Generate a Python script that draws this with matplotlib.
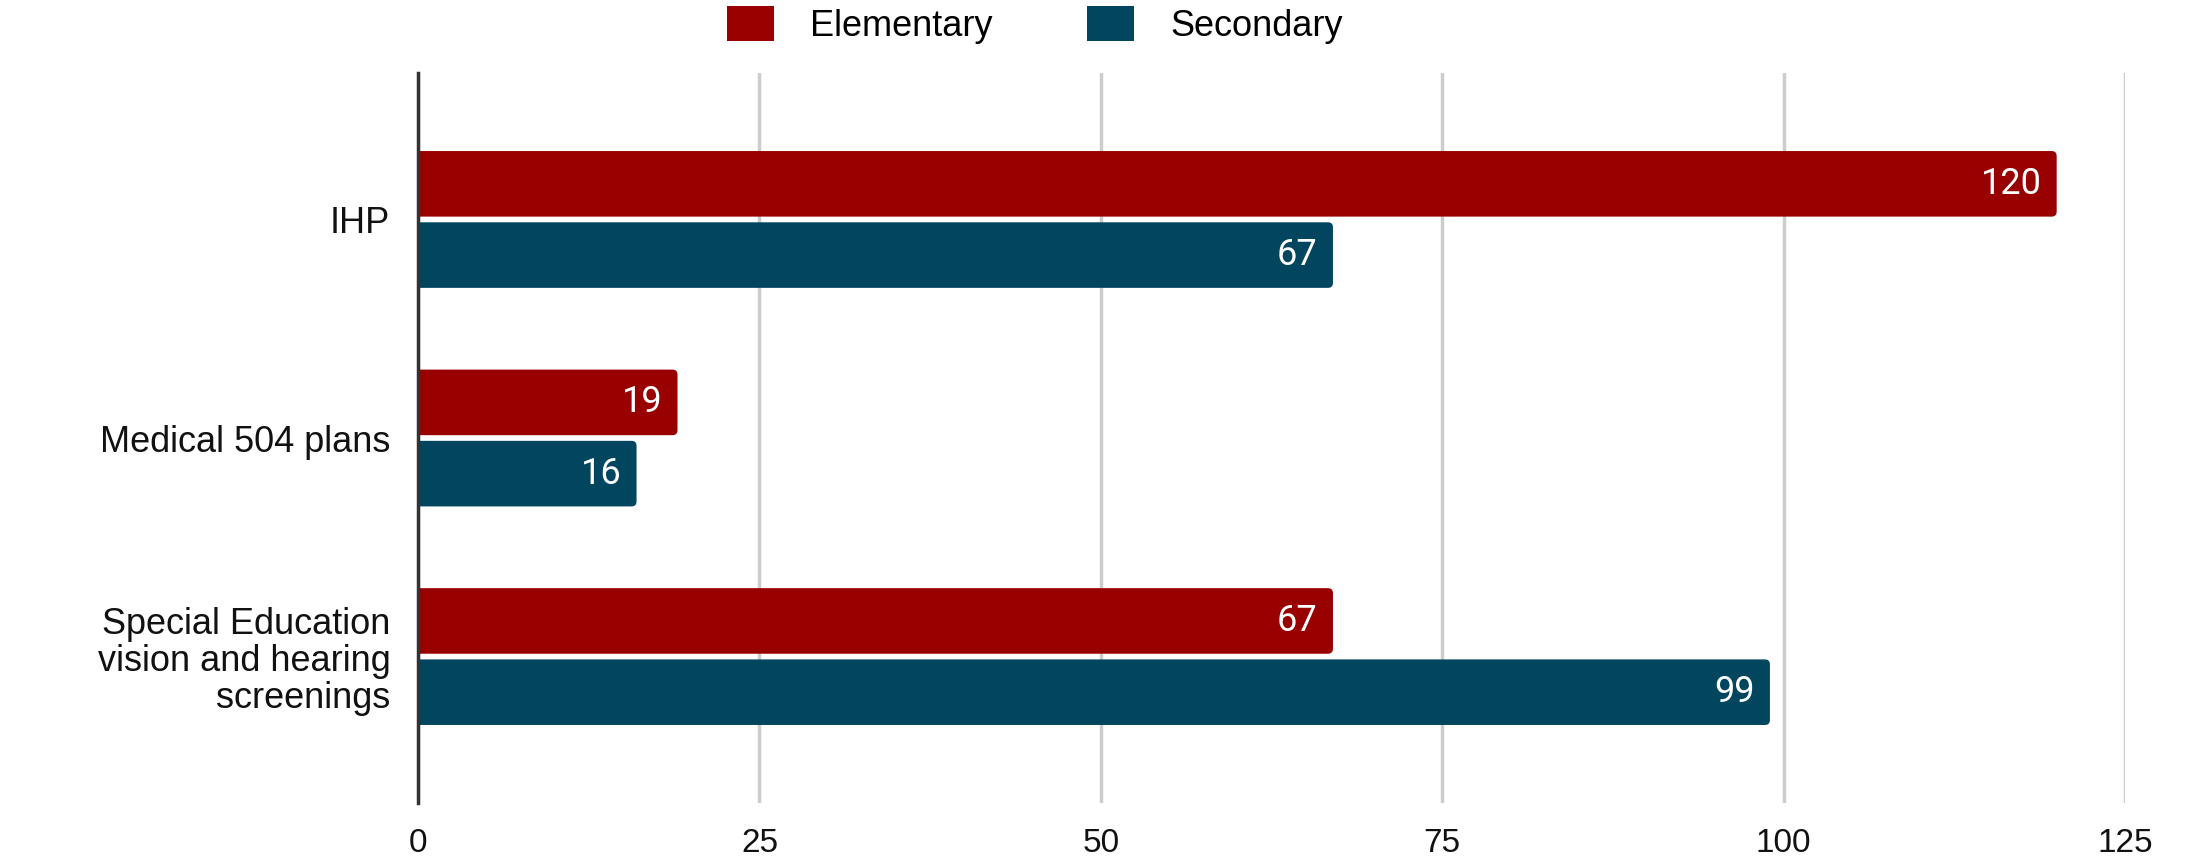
import matplotlib
matplotlib.use("Agg")
import matplotlib.pyplot as plt
from matplotlib.patches import FancyBboxPatch, Patch
import numpy as np

categories = ["IHP", "Medical 504 plans", "Special Education\nvision and hearing\nscreenings"]
elementary = [120, 19, 67]
secondary = [67, 16, 99]
series_names = ["Elementary", "Secondary"]
xticks = [0, 25, 50, 75, 100, 125]

RED = "#990000"
BLUE = "#01455F"
LABEL_FONT = "Liberation Sans"

fig = plt.figure(figsize=(21.9, 8.58), dpi=100)
ax = fig.add_axes([0.1909, 0.0641, 0.9703 - 0.1909, 0.9149 - 0.0641])

ax.set_xlim(0, 125)
ax.set_ylim(len(categories) - 1 + 0.67, -0.67)

y = np.arange(len(categories))
h = 0.30
off = 0.163
b1 = ax.barh(y - off, elementary, height=h, color=RED, zorder=3)
b2 = ax.barh(y + off, secondary, height=h, color=BLUE, zorder=3)

# rounded bar ends: px per data unit in x and y
fig.canvas.draw()
bbox = ax.get_window_extent()
px_x = bbox.width / 125.0
px_y = bbox.height / (len(categories) - 1 + 1.34)
r_px = 5.0
for bars in (b1, b2):
    for rect in bars.patches:
        x0, y0 = rect.get_x(), rect.get_y()
        w, hh = rect.get_width(), rect.get_height()
        fp = FancyBboxPatch((x0 - 1.0, y0), w + 1.0, hh,
                            boxstyle=f"round,pad=0,rounding_size={r_px / px_x}",
                            mutation_aspect=px_x / px_y,
                            facecolor=rect.get_facecolor(), edgecolor="none", zorder=3)
        ax.add_patch(fp)
        rect.set_visible(False)

for bars in (b1, b2):
    txts = ax.bar_label(bars, labels=[str(v) for v in bars.datavalues], padding=-11,
                        color="white", fontsize=26, family="Roboto", zorder=4)
    for t in txts:
        t.set_horizontalalignment("right")

ax.set_xticks(xticks)
ax.set_xticklabels([str(v) for v in xticks], fontsize=24, family=LABEL_FONT, color="#111111")
ax.set_yticks(y)
ax.set_yticklabels(categories, fontsize=26, family=LABEL_FONT, color="#111111",
                   linespacing=1.08)
ax.tick_params(axis="both", length=0)
ax.tick_params(axis="x", pad=18)
ax.tick_params(axis="y", pad=20)

ax.grid(axis="x", color="#cccccc", linewidth=2.5, zorder=0)
ax.set_axisbelow(True)
for s in ["top", "right", "bottom"]:
    ax.spines[s].set_visible(False)
ax.spines["left"].set_color("#333333")
ax.spines["left"].set_linewidth(2.5)
ax.spines["left"].set_zorder(5)

handles = [Patch(facecolor=RED, edgecolor="none"), Patch(facecolor=BLUE, edgecolor="none")]
fig.legend(handles=handles, labels=series_names, loc="center",
           bbox_to_anchor=(1035 / 2190, 1 - 25 / 858), ncol=2, frameon=False,
           prop={"family": LABEL_FONT, "size": 26}, handlelength=1.3, handleheight=1.1,
           handletextpad=1.0, columnspacing=2.6)

fig.savefig("out.png", dpi=100, facecolor="white")
